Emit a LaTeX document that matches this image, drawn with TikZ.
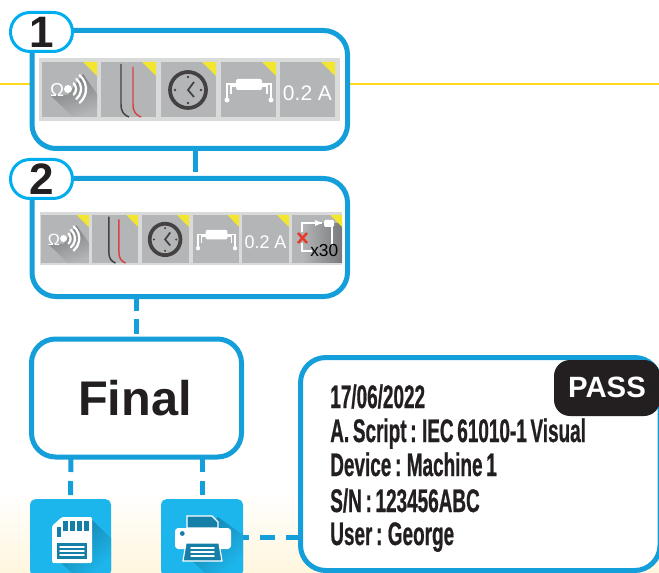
\documentclass[tikz,border=0pt]{standalone}
\usepackage{fontspec}
\setmainfont{Liberation Sans}
\newfontfamily\condfont[FakeStretch=0.58,FakeBold=0.6,WordSpace=0.7]{Liberation Sans Bold}
\usetikzlibrary{calc}
\definecolor{boxblue}{HTML}{159FDA}
\definecolor{ovalblue}{HTML}{00AEEF}
\definecolor{tileblue}{HTML}{1DB6EC}
\definecolor{tiledark}{HTML}{167FA8}
\definecolor{stripgray}{HTML}{D9DADA}
\definecolor{icongray}{HTML}{B3B5B6}
\definecolor{shadegray}{HTML}{77797B}
\definecolor{cornery}{HTML}{F2E62F}
\definecolor{lineyellow}{HTML}{FFD91A}
\definecolor{ink}{HTML}{231F20}
\definecolor{cream}{HTML}{FFF6DE}
\definecolor{xred}{HTML}{E8392A}
\newcommand{\px}[1]{#1*0.75pt}
\newcommand{\tilebase}{%
  \fill[icongray] (0,0) rectangle (55,55);
  \fill[cornery] (41,0) -- (55,0) -- (55,14) -- cycle;}
\tikzset{
  x=0.75pt,y=-0.75pt,
  panel/.style={draw=boxblue,line width=3.75pt,fill=white,rounded corners=18pt,inner sep=0pt,outer sep=0pt},
  tagoval/.style={draw=ovalblue,line width=2.25pt,fill=white,rounded corners=14.5pt,inner sep=0pt,outer sep=0pt,
    minimum width=46.5pt,minimum height=29.25pt,font=\fontsize{33}{33}\selectfont\bfseries,text=ink},
  link/.style={draw=boxblue,line width=3.75pt},
  dashlink/.style={link,dash pattern=on 11.25pt off 6.75pt},
  tile/.style={fill=tileblue,rounded corners=4pt,inner sep=0pt,outer sep=0pt},
  report/.style={font=\condfont\fontsize{24.5}{24.5}\selectfont,text=ink,anchor=base west,inner sep=0pt},
  whiteline/.style={draw=white,line width=1.1pt,line cap=round},
  sound/.pic={
    \tilebase
    \shade[left color=shadegray,right color=icongray,shading angle=20] (8,33) -- (31,55) -- (55,55) -- (55,32) -- (41,12) -- (26,33) -- cycle;
    \node[transform shape,text=white,inner sep=0pt,font=\fontsize{14}{14}\selectfont] (om) at (15,28) {Ω};
    \fill[white] (26,27) circle (4);
    \draw[white,line width=1.7pt,line cap=round] (26,27) ++(-45:8) arc (-45:45:8);
    \draw[white,line width=1.7pt,line cap=round] (26,27) ++(-50:13) arc (-50:50:13);
    \draw[white,line width=1.7pt,line cap=round] (26,27) ++(-50:18) arc (-50:50:18);
  },
  leads/.pic={
    \tilebase
    \draw[draw=ink!85,line width=1.1pt] (20,2) -- (20,42) .. controls (20,50) and (23,53) .. (28,55);
    \draw[draw=red!65!gray!90,line width=1.1pt] (32,5) -- (32,42) .. controls (32,50) and (35,53) .. (40,55);
  },
  clockface/.pic={
    \tilebase
    \draw[ink!85,line width=2.8pt] (27,28) circle (18);
    \draw[ink!85,line width=1.3pt] (33,20) -- (27,28) -- (33,35);
    \foreach \a in {0,90,180,270} \fill[ink!85] (27,28) ++(\a:13) circle (1.3);
  },
  component/.pic={
    \tilebase
    \fill[white,rounded corners=1.5pt] (15,17) rectangle (41,28);
    \draw[white,line width=1pt] (15,22) -- (6,22) -- (6,38);
    \draw[white,line width=1pt] (41,22) -- (50,22) -- (50,38);
    \draw[white,line width=1pt] (15,24) -- (10,24) -- (10,32);
    \draw[white,line width=1pt] (41,24) -- (46,24) -- (46,32);
    \fill[white] (6,38) circle (2.5) (50,38) circle (2.5);
  },
  ampere/.pic={
    \tilebase
    \node[transform shape,text=white,inner sep=0pt,font=\fontsize{15.75}{15.75}\selectfont] (amp) at (27.5,31) {0.2 A};
  },
}
\begin{document}
\begin{tikzpicture}
\useasboundingbox (0,0) rectangle (659,573);
\begin{scope}
\clip (0,0) rectangle (659,573);
\shade[top color=white,bottom color=cream] (0,490) rectangle (659,573);
\coordinate (railL) at (0,84);
\coordinate (railR) at (659,84);
\draw[lineyellow,line width=1.9pt] (railL) -- (railR);

% nodes of the flow
\node[panel,minimum width=\px{315.5},minimum height=\px{118}] (box1) at (189.75,89.5) {};
\node[panel,minimum width=\px{315.5},minimum height=\px{118}] (box2) at (189.75,237.5) {};
\node[panel,minimum width=\px{210},minimum height=\px{118}] (final) at (136.5,398) {};
\node[inner sep=0pt,font=\fontsize{36.5}{36.5}\selectfont\bfseries,text=ink] (finaltxt) at (135,398) {Final};
\node[tile,minimum width=\px{81},minimum height=\px{77}] (save) at (70.5,537.7) {};
\node[tile,minimum width=\px{82},minimum height=\px{77}] (print) at (202,537.7) {};
\node[panel,rounded corners=19pt,minimum width=\px{359.5},minimum height=\px{213}] (rep) at (480.25,464) {};

% connectors
\draw[link,shorten >=4.5pt] ([xshift=\px{5.25}]box1.south) -- ([xshift=\px{5.25}]box2.north);
\draw[link,dash pattern=on 10.9pt off 6pt,shorten >=2.2pt] (final.north |- box2.south) -- (final.north);
\draw[dashlink,shorten >=3pt] ([xshift=\px{-65.5}]final.south) -- (save.north);
\draw[dashlink,shorten >=3pt] (final.south -| print.north) -- (print.north);
\draw[link,dash pattern=on 11.25pt off 8.25pt] (rep.west |- print.east) -- (print.east);

% strip 1
\fill[stripgray] (39,58) rectangle (340,121);
\pic (a1) at (42,62) {sound};
\pic (a2) at (101,62) {leads};
\pic (a3) at (161,62) {clockface};
\pic (a4) at (221,62) {component};
\pic (a5) at (280,62) {ampere};

% strip 2
\fill[stripgray] (40,212) rectangle (342,265);
\pic[xscale=0.87,yscale=0.873] (b1) at (41,215) {sound};
\pic[xscale=0.84,yscale=0.873] (b2) at (92,215) {leads};
\pic[xscale=0.855,yscale=0.873] (b3) at (142,215) {clockface};
\pic[xscale=0.84,yscale=0.873] (b4) at (193,215) {component};
\pic[xscale=0.855,yscale=0.873] (b5) at (242,215) {ampere};
\begin{scope}
\clip (292,215) rectangle (342,263);
\fill[icongray] (292,215) rectangle (342,263);
\shade[left color=icongray,right color=shadegray] (302,224) rectangle (342,263);
\fill[cornery] (330,215) -- (342,215) -- (342,227) -- cycle;
\draw[white,line width=1pt] (302,232) -- (302,223) -- (322,223);
\draw[white,line width=1pt] (302,243) -- (302,251) -- (312,251);
\draw[white,line width=1pt] (332,223) -- (332,246);
\fill[white] (315,220) -- (322,223) -- (315,226) -- cycle;
\fill[white,rounded corners=1pt] (324,220) rectangle (334,227);
\draw[xred,line width=1.9pt] (298,233) -- (307,243) (307,233) -- (298,243);
\node[inner sep=0pt,anchor=base west,font=\fontsize{13}{13}\selectfont,text=black] (x30) at (310,257) {x30};
\end{scope}

% tags
\node[tagoval] (tag1) at (41.5,32) {\raisebox{-1pt}{1}};
\node[tagoval] (tag2) at (41.5,179) {\raisebox{-1pt}{2}};

% save icon
\begin{scope}
\clip[rounded corners=4pt] (30,499) rectangle (111,576);
\shade[left color=tiledark,right color=tileblue,shading angle=45] (92,520) -- (111,538) -- (111,573) -- (72,573) -- (60,562) -- cycle;
\end{scope}
\fill[white,rounded corners=1pt] (52,563) -- (52,526) -- (62,517) -- (92,517) -- (92,563) -- cycle;
\fill[tiledark] (57,527) rectangle (61,537);
\foreach \xx in {63,70,77,84} \fill[tiledark] (\xx,521) rectangle (\xx+5,531);
\fill[tiledark] (57,543) rectangle (87,559);
\foreach \yy in {547,551,555} \draw[whiteline] (60,\yy) -- (84,\yy);

% printer icon
\begin{scope}
\clip[rounded corners=4pt] (161,499) rectangle (243,576);
\shade[left color=tiledark,right color=tileblue,shading angle=45] (218,517) -- (243,535) -- (243,573) -- (205,573) -- (186,555) -- cycle;
\end{scope}
\fill[tiledark,draw=white,line width=0.9pt] (187,516) -- (212,516) -- (218,522) -- (218,528) -- (187,528) -- cycle;
\fill[white,rounded corners=2.5pt] (175,528) rectangle (231,549);
\fill[tiledark] (182.3,533.5) circle (2.4);
\fill[tiledark,draw=white,line width=0.9pt] (186,543) -- (219,543) -- (222,561) -- (183,561) -- cycle;
\foreach \yy in {548,552,556} \draw[whiteline] (191,\yy) -- (214,\yy);

% report
\node[fill=ink,rounded corners=12pt,minimum width=\px{106},minimum height=\px{56},inner sep=0pt] (pass) at (607,388) {};
\node[inner sep=0pt,text=white,font=\fontsize{22}{22}\selectfont\bfseries] (passtxt) at (607,387) {PASS};
\node[report] (l1) at (330,408) {17/06/2022};
\node[report] (l2) at (330,442) {A. Script : IEC 61010-1 Visual};
\node[report] (l3) at (330,476) {Device : Machine 1};
\node[report] (l4) at (330,512) {S/N : 123456ABC};
\node[report] (l5) at (330,545) {User : George};
\end{scope}
\end{tikzpicture}
\end{document}
